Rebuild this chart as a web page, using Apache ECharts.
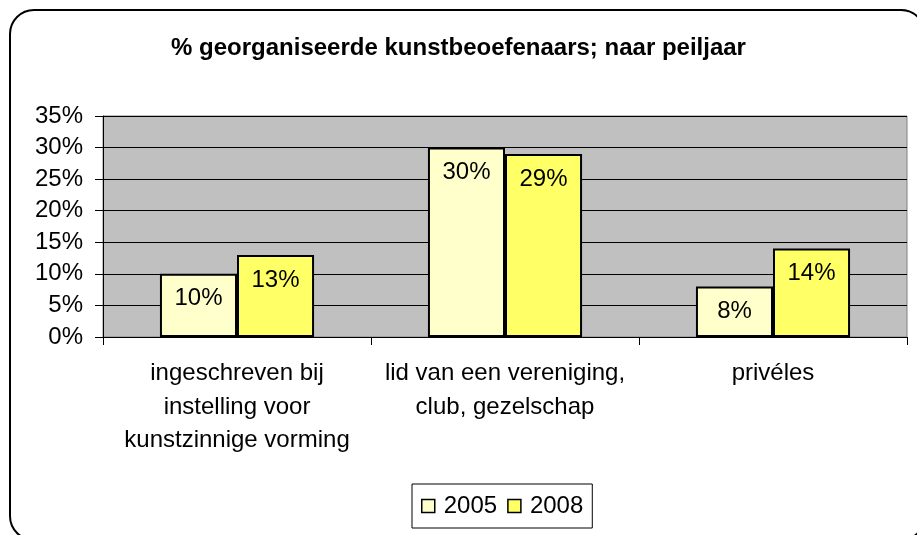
<!DOCTYPE html>
<html>
<head>
<meta charset="utf-8">
<title>georganiseerde kunstbeoefenaars</title>
<script src="https://cdn.jsdelivr.net/npm/echarts@6/dist/echarts.min.js"></script>
<style>
  html, body { margin: 0; padding: 0; background: #fff; }
  #chart1 { width: 917px; height: 535px; }
</style>
</head>
<body>
<div id="chart1"></div>
<script type="text/javascript">
    // data
    var categories = ['ingeschreven bij\ninstelling voor\nkunstzinnige vorming', 'lid van een vereniging,\nclub, gezelschap', 'privéles'];
    var years = ['2005', '2008'];
    var values2005 = [10, 30, 8];
    var values2008 = [13, 29, 14];

    var font = 'Liberation Sans, Arial, sans-serif';
    var myChart = echarts.init(document.getElementById('chart1'));

    function barSeries(name, data, color) {
        return {
            name: name,
            type: 'bar',
            data: data,
            barGap: '0%',
            barCategoryGap: '42.5%',
            itemStyle: { color: color, borderColor: '#000', borderWidth: 2 },
            label: {
                show: true,
                position: 'insideTop',
                distance: 13,
                formatter: '{c}%',
                color: '#000',
                fontFamily: font,
                fontSize: 24
            }
        };
    }

    var option = {
        animation: false,
        title: {
            text: '% georganiseerde kunstbeoefenaars; naar peiljaar',
            left: 'center',
            top: 31,
            textStyle: { fontFamily: font, fontSize: 24, fontWeight: 'bold', color: '#000' }
        },
        grid: { left: 103, right: 10, top: 116, bottom: 198, containLabel: false },
        graphic: [{
            // rounded frame round the whole chart
            type: 'rect',
            shape: { x: 10, y: 10, width: 915, height: 530, r: 24 },
            style: { fill: null, stroke: '#000', lineWidth: 2 },
            silent: true
        }, {
            // grey plot area
            type: 'rect',
            shape: { x: 103, y: 116, width: 804, height: 221 },
            style: { fill: '#c0c0c0', stroke: '#808080', lineWidth: 1 },
            z: -1,
            silent: true
        }],
        legend: {
            data: years,
            left: 412,
            top: 484,
            itemWidth: 13,
            itemHeight: 13,
            itemGap: 10,
            padding: [10, 9, 10, 9],
            borderColor: '#000',
            borderWidth: 1,
            icon: 'rect',
            itemStyle: { borderColor: '#000', borderWidth: 1.5 },
            textStyle: { fontFamily: font, fontSize: 24, color: '#000', padding: [0, 0, 0, 4] }
        },
        xAxis: {
            type: 'category',
            data: categories,
            axisLine: { lineStyle: { color: '#000', width: 1 } },
            axisTick: { show: true, length: 8, lineStyle: { color: '#000' } },
            axisLabel: {
                fontFamily: font, fontSize: 24, color: '#000',
                lineHeight: 33.5, margin: 20, interval: 0
            }
        },
        yAxis: {
            type: 'value',
            min: 0,
            max: 35,
            interval: 5,
            axisLine: { show: true, lineStyle: { color: '#000' } },
            axisTick: { show: true, length: 8, lineStyle: { color: '#000' } },
            axisLabel: { formatter: '{value}%', fontFamily: font, fontSize: 24, color: '#000', margin: 20 },
            splitLine: { lineStyle: { color: '#000', width: 1 } }
        },
        series: [
            barSeries(years[0], values2005, '#ffffcc'),
            barSeries(years[1], values2008, '#ffff66')
        ]
    };
    myChart.setOption(option);
</script>
</body>
</html>
